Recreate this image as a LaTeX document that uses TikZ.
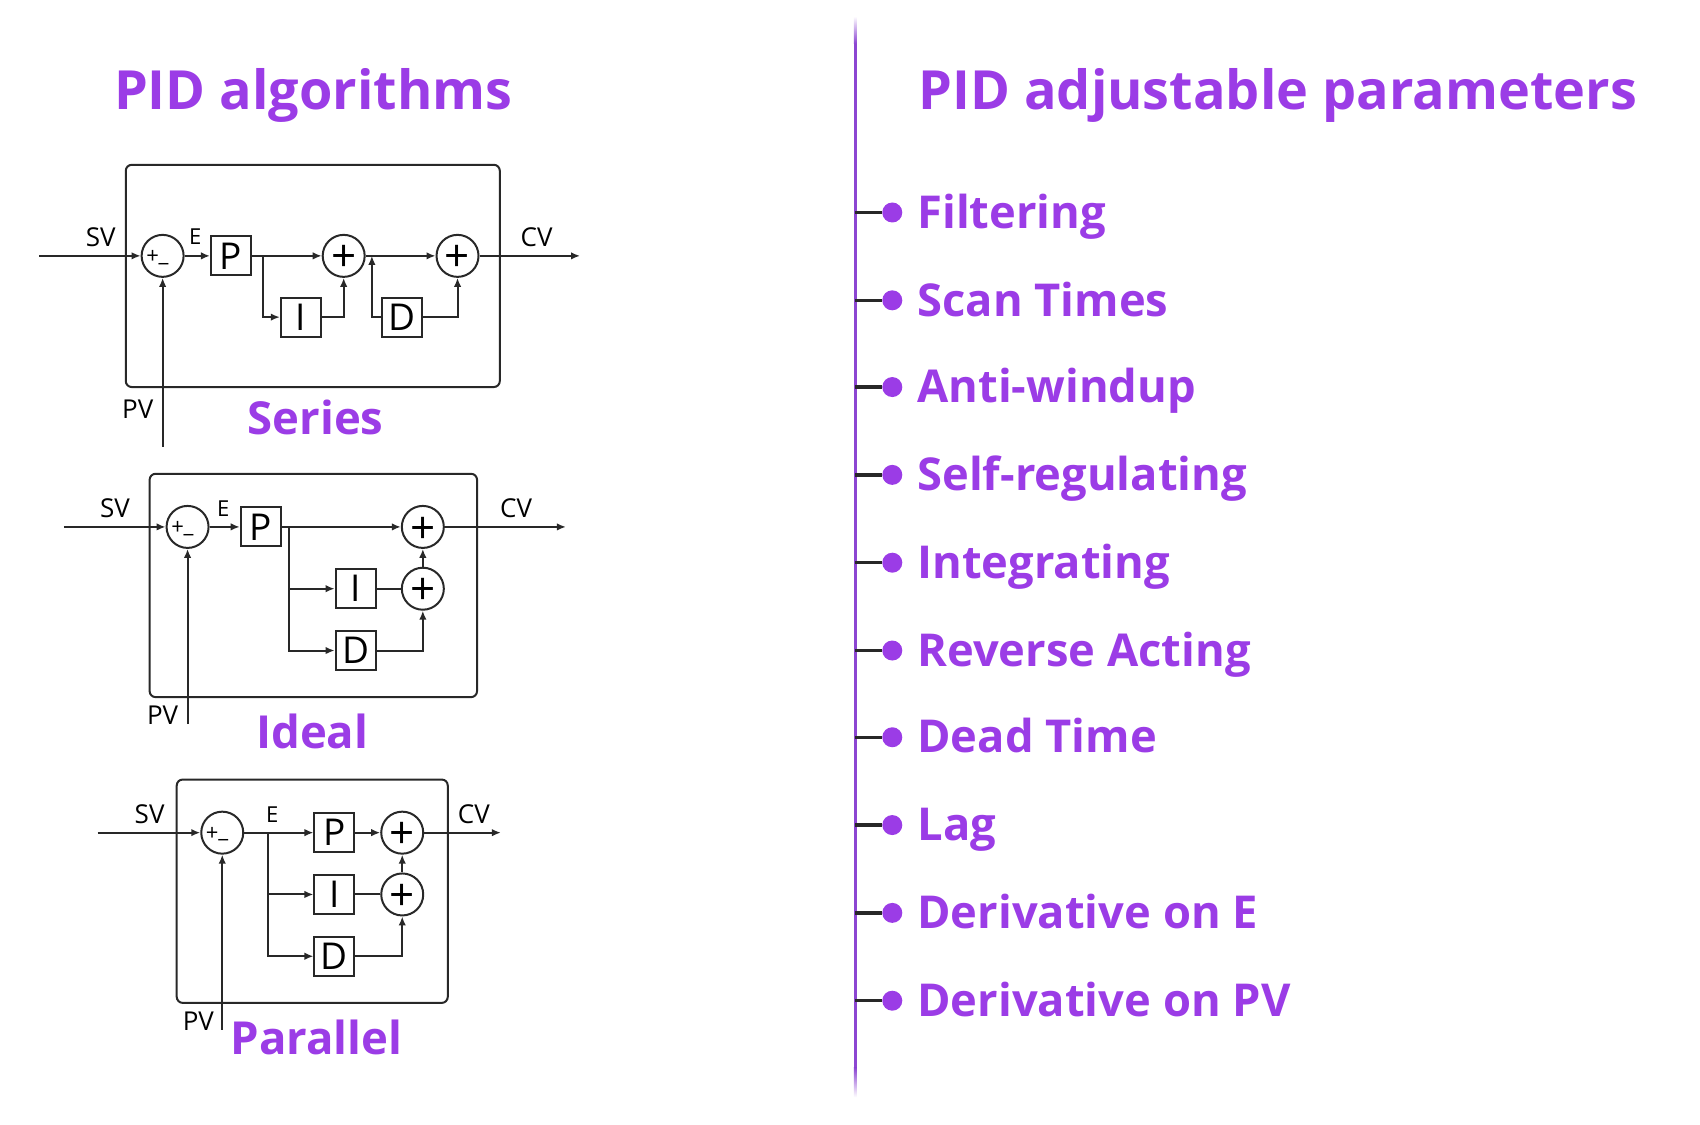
\documentclass[tikz,border=0pt]{standalone}
\usepackage{fontspec}
\setmainfont{Open Sans}
\usetikzlibrary{arrows.meta}
\definecolor{pur}{RGB}{155,60,230}
\definecolor{vl}{RGB}{140,70,210}
\definecolor{ink}{RGB}{40,40,40}
\begin{document}
\begin{tikzpicture}[x=1.0842pt,y=-1.0842pt,
  wire/.style={draw=ink, line width=2pt, -{Latex[length=9pt,width=7.5pt]}},
  plain/.style={draw=ink, line width=2pt},
  blk/.style={draw=ink, line width=2pt, minimum width=40pt, minimum height=39pt, inner sep=0pt, text=black, font=\fontsize{37}{37}\selectfont},
  sumc/.style={draw=ink, circle, line width=2pt, minimum size=42pt, inner sep=0pt},
  plus/.style={text=black, inner sep=0pt, font=\fontsize{44}{44}\selectfont},
  tinyp/.style={text=black, inner sep=0pt, font=\fontsize{22}{22}\selectfont},
  sig/.style={font=\fontsize{26}{26}\selectfont, text=black, inner sep=0pt},
  esig/.style={font=\fontsize{22}{22}\selectfont, text=black, inner sep=0pt},
  frame/.style={draw=ink, line width=2pt, rounded corners=6pt},
  dlabel/.style={font=\fontsize{45.5}{45.5}\selectfont\bfseries, text=pur, inner sep=0pt, anchor=base},
  ttl/.style={font=\fontsize{54}{54}\selectfont\bfseries, text=pur, inner sep=0pt, anchor=base west},
  item/.style={font=\fontsize{45.3}{45.3}\selectfont\bfseries, text=pur, inner sep=0pt, anchor=base west},
  dot/.style={circle, fill=pur, minimum size=20pt, inner sep=0pt},
  stem/.style={draw=ink, line width=3.5pt}
]
\useasboundingbox (0,0) rectangle (1568,1037);

% titles
\node[ttl] (t1) at (105,101) {PID algorithms};
\node[ttl] (t2) at (847,101) {PID adjustable parameters};

% ================= Series =================
\draw[frame] (116,152) rectangle (461,357);
\node[sumc] (s1) at (150,236) {};
\node[tinyp] (s1p) at ([xshift=-10pt,yshift=-1pt]s1.center) {+};
\node[tinyp] (s1m) at ([xshift=1pt,yshift=-7pt]s1.center) {\_};
\node[blk] (sP) at (213,236) {P};
\node[blk] (sI) at (277.5,292.5) {I};
\node[sumc] (s2) at (317,236) {};
\node[plus] (s2p) at ([yshift=-3pt]s2.center) {+};
\node[blk] (sD) at (370.5,292.5) {D};
\node[sumc] (s3) at (422,236) {};
\node[plus] (s3p) at ([yshift=-3pt]s3.center) {+};
\coordinate (sSV) at (36,236);
\coordinate (sCV) at (535,236);
\coordinate (sPV) at (150,412);
\coordinate (sB1) at (243,236);
\coordinate (sB2) at (343,236);
\draw[wire] (sSV) -- (s1);
\draw[wire] (s1) -- (sP);
\draw[wire] (sP) -- (s2);
\draw[wire] (sB1) |- (sI);
\draw[wire] (sI) -| (s2);
\draw[wire] (s2) -- (s3);
\draw[wire] (sD) -| (sB2);
\draw[wire] (sD) -| (s3);
\draw[wire] (s3) -- (sCV);
\draw[wire] (sPV) -- (s1);
\node[sig] (sSVl) at (93,219) {SV};
\node[esig] (sEl) at (180,218) {E};
\node[sig] (sCVl) at (495,219) {CV};
\node[sig] (sPVl) at (127,377) {PV};
\node[dlabel] (sT) at (291,401) {Series};

% ================= Ideal =================
\draw[frame] (138,437) rectangle (440,643);
\node[sumc] (i1) at (173,486) {};
\node[tinyp] (i1p) at ([xshift=-10pt,yshift=-1pt]i1.center) {+};
\node[tinyp] (i1m) at ([xshift=1pt,yshift=-7pt]i1.center) {\_};
\node[blk] (iP) at (240.5,486) {P};
\node[blk] (iI) at (328,543) {I};
\node[blk] (iD) at (328,600) {D};
\node[sumc] (i2) at (390,486) {};
\node[plus] (i2p) at ([yshift=-3pt]i2.center) {+};
\node[sumc] (i3) at (390,543) {};
\node[plus] (i3p) at ([yshift=-3pt]i3.center) {+};
\coordinate (iSV) at (59,486);
\coordinate (iCV) at (522,486);
\coordinate (iPV) at (173,668);
\coordinate (iB) at (267,486);
\draw[wire] (iSV) -- (i1);
\draw[wire] (i1) -- (iP);
\draw[wire] (iP) -- (i2);
\draw[wire] (iB) |- (iI);
\draw[wire] (iB) |- (iD);
\draw[plain] (iI) -- (i3);
\draw[wire] (iD) -| (i3);
\draw[wire] (i3) -- (i2);
\draw[wire] (i2) -- (iCV);
\draw[wire] (iPV) -- (i1);
\node[sig] (iSVl) at (106,469) {SV};
\node[esig] (iEl) at (206,469) {E};
\node[sig] (iCVl) at (476,469) {CV};
\node[sig] (iPVl) at (150,660) {PV};
\node[dlabel] (iT) at (288,690) {Ideal};

% ================= Parallel =================
\draw[frame] (163,719) rectangle (413,925);
\node[sumc] (p1) at (205,768) {};
\node[tinyp] (p1p) at ([xshift=-10pt,yshift=-1pt]p1.center) {+};
\node[tinyp] (p1m) at ([xshift=1pt,yshift=-7pt]p1.center) {\_};
\node[blk] (pP) at (308.5,768) {P};
\node[blk] (pI) at (308.5,825) {I};
\node[blk] (pD) at (308.5,882) {D};
\node[sumc] (p2) at (371,768) {};
\node[plus] (p2p) at ([yshift=-3pt]p2.center) {+};
\node[sumc] (p3) at (371,825) {};
\node[plus] (p3p) at ([yshift=-3pt]p3.center) {+};
\coordinate (pSV) at (90,768);
\coordinate (pCV) at (462,768);
\coordinate (pPV) at (205,950);
\coordinate (pB) at (247,768);
\draw[wire] (pSV) -- (p1);
\draw[plain] (p1) -- (pB);
\draw[wire] (pB) -- (pP);
\draw[wire] (pB) |- (pI);
\draw[wire] (pB) |- (pD);
\draw[wire] (pP) -- (p2);
\draw[plain] (pI) -- (p3);
\draw[wire] (pD) -| (p3);
\draw[wire] (p3) -- (p2);
\draw[wire] (p2) -- (pCV);
\draw[wire] (pPV) -- (p1);
\node[sig] (pSVl) at (138,751) {SV};
\node[esig] (pEl) at (251,751) {E};
\node[sig] (pCVl) at (437,751) {CV};
\node[sig] (pPVl) at (183,942) {PV};
\node[dlabel] (pT) at (292,973) {Parallel};

% ================= right list =================
\fill[vl] (787.6,40) rectangle (790.4,985);
\shade[top color=white, bottom color=vl] (787.6,15) rectangle (790.4,40);
\shade[top color=vl, bottom color=white] (787.6,985) rectangle (790.4,1012);
\foreach \yy/\t [count=\k] in {196/Filtering, 277/Scan Times, 357/Anti-windup, 438/Self-regulating, 519/Integrating, 600/Reverse Acting, 680/Dead Time, 761/Lag, 842/Derivative on E, 923/Derivative on PV}{
  \coordinate (r\k) at (789,\yy);
  \node[dot] (d\k) at (823,\yy) {};
  \draw[stem] (r\k) -- (d\k.west);
  \node[item] (it\k) at (846,\yy+14.5) {\t};
}
\end{tikzpicture}
\end{document}
